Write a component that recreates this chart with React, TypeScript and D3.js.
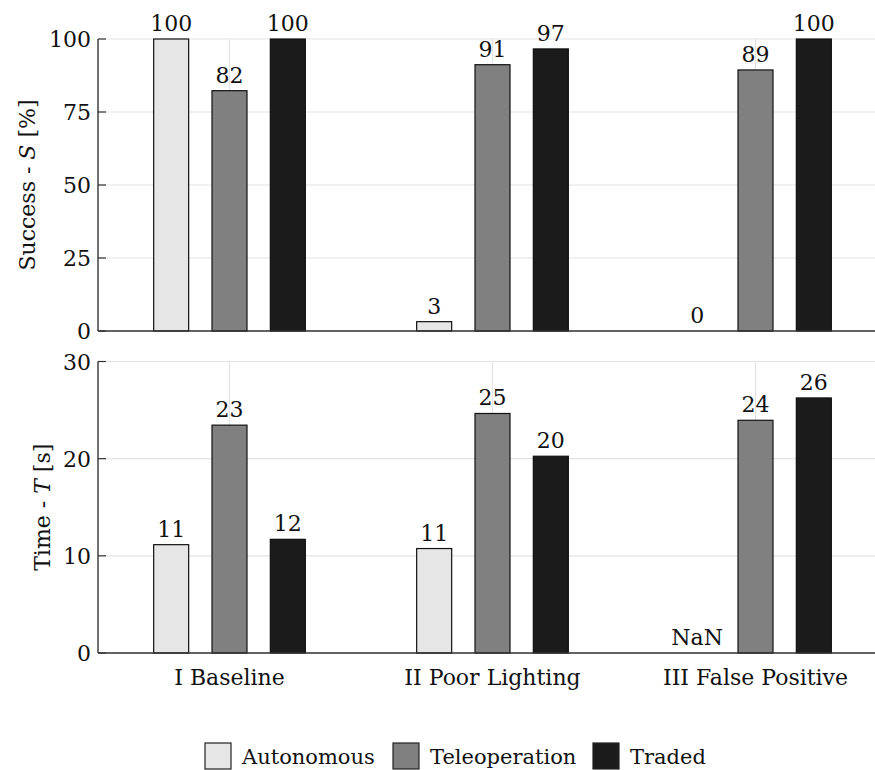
import React from "react";
import * as d3 from "d3";

const groups = ["I Baseline", "II Poor Lighting", "III False Positive"];
const seriesNames = ["Autonomous", "Teleoperation", "Traded"];
const seriesColors = ["#e6e6e6", "#808080", "#1b1b1b"];

// success rate [%]
const successAutonomous = [100, 3.2, 0];
const successTeleoperation = [82.3, 91.2, 89.4];
const successTraded = [100, 96.6, 100];

// completion time [s]
const timeAutonomous = [11.15, 10.75, NaN];
const timeTeleoperation = [23.45, 24.65, 23.95];
const timeTraded = [11.7, 20.25, 26.25];

const successTicks = [0, 25, 50, 75, 100];
const timeTicks = [0, 10, 20, 30];

const W = 875;
const H = 770;
const left = 98;
const right = 887;
const FONT = "DejaVu Serif";
const fs = 22;
const txt = { fontFamily: FONT, fontSize: fs };

const x0 = d3.scaleBand<string>().domain(groups).range([left, right]);
const x1 = d3
  .scaleBand<string>()
  .domain(seriesNames)
  .range([-87.5, 87.5])
  .paddingInner(0.4)
  .paddingOuter(0.2);

type PanelProps = {
  top: number;
  bottom: number;
  max: number;
  ticks: number[];
  values: number[][];
  title: React.ReactNode;
  titleX: number;
  showX: boolean;
};

function Panel({ top, bottom, max, ticks, values, title, titleX, showX }: PanelProps) {
  const y = d3.scaleLinear().domain([0, max]).range([bottom, top]);
  return (
    <g>
      {/* grid */}
      {ticks.map((t) => (
        <line key={"h" + t} x1={left} x2={right} y1={y(t)} y2={y(t)} stroke="#e3e3e3" strokeWidth={1.2} />
      ))}
      {groups.map((g) => {
        const cx = (x0(g) as number) + x0.bandwidth() / 2;
        return <line key={"v" + g} x1={cx} x2={cx} y1={top} y2={bottom} stroke="#e3e3e3" strokeWidth={1.2} />;
      })}
      {/* bars */}
      {groups.map((g, gi) => {
        const cx = (x0(g) as number) + x0.bandwidth() / 2;
        return seriesNames.map((s, si) => {
          const v = values[si][gi];
          const bx = cx + (x1(s) as number);
          const ok = !isNaN(v);
          const yy = ok ? y(v) : y(0);
          return (
            <g key={g + s}>
              {ok && (
                <rect
                  x={bx}
                  y={yy}
                  width={x1.bandwidth()}
                  height={y(0) - yy}
                  fill={seriesColors[si]}
                  stroke={v === 0 ? "#888" : "#111"}
                  strokeWidth={1.2}
                />
              )}
              <text x={bx + x1.bandwidth() / 2} y={yy - 8} textAnchor="middle" style={txt} fill="#111">
                {ok ? Math.round(v) : "NaN"}
              </text>
            </g>
          );
        });
      })}
      {/* axes */}
      <line x1={left} x2={right} y1={bottom} y2={bottom} stroke="#333" strokeWidth={1.4} />
      <line x1={left} x2={left} y1={top} y2={bottom} stroke="#333" strokeWidth={1.4} />
      {ticks.map((t) => (
        <g key={"t" + t}>
          <line x1={left} x2={left + 8} y1={y(t)} y2={y(t)} stroke="#333" strokeWidth={1.2} />
          <text x={left - 7} y={y(t) + 8} textAnchor="end" style={txt} fill="#111">
            {t}
          </text>
        </g>
      ))}
      <text
        transform={`translate(${titleX},${(top + bottom) / 2}) rotate(-90)`}
        textAnchor="middle"
        dy="0.35em"
        style={txt}
        fill="#111"
      >
        {title}
      </text>
      {showX &&
        groups.map((g) => (
          <text
            key={"x" + g}
            x={(x0(g) as number) + x0.bandwidth() / 2}
            y={bottom + 32}
            textAnchor="middle"
            style={txt}
            fill="#111"
          >
            {g}
          </text>
        ))}
    </g>
  );
}

export default function App() {
  const legendX = [205, 393, 593];
  return (
    <svg width={W} height={H} style={{ position: "absolute", left: 0, top: 0, background: "#fff" }}>
      <Panel
        top={39}
        bottom={331}
        max={100}
        ticks={successTicks}
        values={[successAutonomous, successTeleoperation, successTraded]}
        title={
          <>
            Success - <tspan fontStyle="italic">S</tspan> [%]
          </>
        }
        titleX={27}
        showX={false}
      />
      <Panel
        top={361.5}
        bottom={653}
        max={30}
        ticks={timeTicks}
        values={[timeAutonomous, timeTeleoperation, timeTraded]}
        title={
          <>
            Time - <tspan fontStyle="italic">T</tspan> [s]
          </>
        }
        titleX={42}
        showX={true}
      />
      {/* legend */}
      {seriesNames.map((s, i) => (
        <g key={"l" + s}>
          <rect x={legendX[i]} y={743} width={26} height={26} fill={seriesColors[i]} stroke="#222" strokeWidth={1.2} />
          <text x={legendX[i] + 37} y={764} style={{ fontFamily: FONT, fontSize: 21 }} fill="#111">
            {s}
          </text>
        </g>
      ))}
    </svg>
  );
}
